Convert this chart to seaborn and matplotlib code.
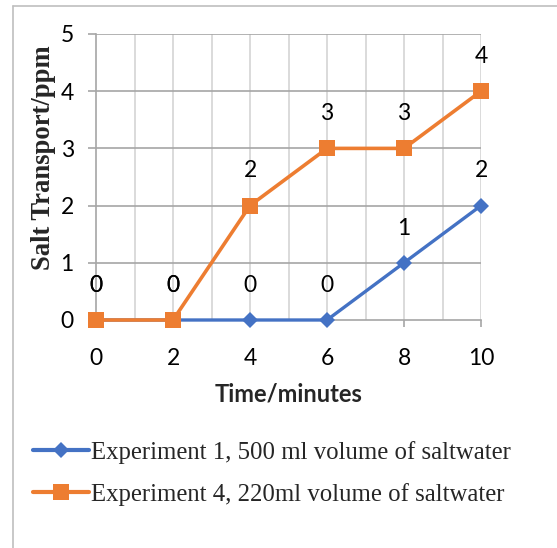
import numpy as np
import pandas as pd
import matplotlib
matplotlib.use("Agg")
import matplotlib.pyplot as plt
from matplotlib.lines import Line2D
from matplotlib.ticker import MultipleLocator
import seaborn as sns

# ---- data ----
time_minutes = [0, 2, 4, 6, 8, 10]
exp1_values = [0, 0, 0, 0, 1, 2]
exp4_values = [0, 0, 2, 3, 3, 4]
exp1_label = "Experiment 1, 500 ml volume of saltwater"
exp4_label = "Experiment 4, 220ml volume of saltwater"
x_title = "Time/minutes"
y_title = "Salt Transport/ppm"

sns.set_theme(style="white")
SANS = ["Lato", "DejaVu Sans"]
SERIF = ["Liberation Serif", "DejaVu Serif"]
plt.rcParams["font.family"] = SANS

BLUE = "#4472C4"
ORANGE = "#ED7D31"
HGRID = "#a6a6a6"
VGRID = "#d4d4d4"

W, H = 557, 548
fig = plt.figure(figsize=(W / 100, H / 100), dpi=100)
ax = fig.add_axes([96 / W, 1 - 320 / H, (481 - 96) / W, (320 - 34) / H])

df1 = pd.DataFrame({"t": time_minutes, "v": exp1_values})
df4 = pd.DataFrame({"t": time_minutes, "v": exp4_values})

sns.lineplot(data=df1, x="t", y="v", ax=ax, color=BLUE, lw=2.4, marker="D",
             markersize=8.5, markeredgewidth=0, label=exp1_label, zorder=3,
             clip_on=False)
sns.lineplot(data=df4, x="t", y="v", ax=ax, color=ORANGE, lw=2.6, marker="s",
             markersize=12, markeredgewidth=0, label=exp4_label, zorder=4,
             clip_on=False)

ax.set_xlim(0, 10)
ax.set_ylim(0, 5)
ax.xaxis.set_major_locator(MultipleLocator(2))
ax.xaxis.set_minor_locator(MultipleLocator(1))
ax.yaxis.set_major_locator(MultipleLocator(1))

ax.grid(False)
for xv in np.arange(1, 11):
    ax.axvline(xv, color=VGRID, lw=1.2, zorder=0)
for yv in np.arange(1, 6):
    ax.axhline(yv, color=HGRID, lw=1.2, zorder=0)

for s in ["top", "right"]:
    ax.spines[s].set_visible(False)
for s in ["left", "bottom"]:
    ax.spines[s].set_color(HGRID)
    ax.spines[s].set_linewidth(1.2)
    ax.spines[s].set_zorder(1)

ax.tick_params(axis="y", which="major", direction="out", length=6, width=1.2,
               color=HGRID, pad=10, labelsize=16.5, labelcolor="black", left=True)
ax.tick_params(axis="x", which="major", direction="out", length=5, width=1.2,
               color=HGRID, pad=15, labelsize=16.5, labelcolor="black", bottom=True)
ax.tick_params(axis="x", which="minor", length=0)
ax.set_xticks(time_minutes)
ax.set_xticklabels([str(t) for t in time_minutes])

ax.set_xlabel("")
ax.set_ylabel("")
ax.get_legend().remove()

# data labels
for series in (exp1_values, exp4_values):
    for t, v in zip(time_minutes, series):
        ax.annotate(str(v), (t, v), xytext=(0, 25), textcoords="offset points",
                    ha="center", va="center", fontsize=16.5, color="black",
                    family=SANS, zorder=6, annotation_clip=False)

# axis titles
fig.text(289 / W, 1 - 394 / H, x_title, ha="center", va="center",
         fontsize=17, fontweight="bold", family=SANS)
fig.text(44 / W, 1 - 158 / H, y_title, ha="center", va="center", rotation=90,
         fontsize=19.2, fontweight="bold", family=SERIF)

# legend
handles = [
    Line2D([], [], color=BLUE, lw=3, marker="D", markersize=8.5, markeredgewidth=0),
    Line2D([], [], color=ORANGE, lw=3, marker="s", markersize=12, markeredgewidth=0),
]
fig.legend(handles, [exp1_label, exp4_label], loc="upper left",
           bbox_to_anchor=(33 / W, 1 - 441 / H), frameon=False,
           prop={"family": SERIF, "size": 17.8}, handlelength=2.25,
           handletextpad=0.08, labelspacing=0.75, borderpad=0, borderaxespad=0)

# outer chart frame
fig.add_artist(Line2D([12.5 / W, 1], [1 - 5.5 / H, 1 - 5.5 / H], color="#bfbfbf",
                      lw=1.2, transform=fig.transFigure))
fig.add_artist(Line2D([12.5 / W, 12.5 / W], [0, 1 - 5.5 / H], color="#bfbfbf",
                      lw=1.2, transform=fig.transFigure))

fig.savefig("out.png", dpi=100, facecolor="white")
